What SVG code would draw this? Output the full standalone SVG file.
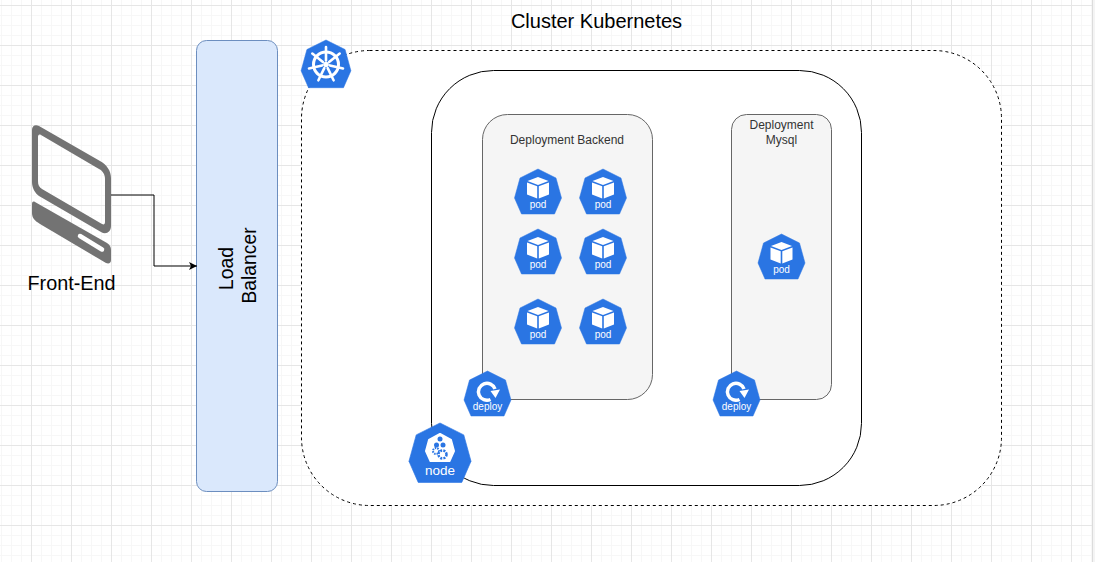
<svg xmlns="http://www.w3.org/2000/svg" xmlns:xlink="http://www.w3.org/1999/xlink" width="1097" height="562" viewBox="0 0 1097 562">
<style>
text{font-family:"Liberation Sans",Arial,sans-serif;fill:#000;text-anchor:middle}
.box{fill:#f5f5f5;stroke:#666;stroke-width:1}
.small{font-size:12px;fill:#333}
.k8{fill:#fff;font-size:10px}
.hept{fill:#2a75e3;stroke:#2a75e3;stroke-width:0.5;stroke-linejoin:round}
</style>
<defs>
<pattern id="minor" width="10" height="10" patternUnits="userSpaceOnUse" x="1" y="5">
<path d="M0.5 0V10M0 0.5H10" fill="none" stroke="#f7f7f7" stroke-width="1"/>
</pattern>
<pattern id="major" width="40" height="40" patternUnits="userSpaceOnUse" x="31" y="5">
<path d="M0.5 0V40M0 0.5H40" fill="none" stroke="#e6e6e6" stroke-width="1"/>
</pattern>
<marker id="arrow" markerWidth="10" markerHeight="10" refX="8" refY="5" orient="auto" markerUnits="userSpaceOnUse">
<path d="M0 1L8 5L0 9L2 5Z" fill="#000"/>
</marker>
<path id="hept" class="hept" d="M0 0L18 9L23.500 29L16.500 45H-16.500L-23.500 29L-18 9Z"/>
<g id="cube">
<path d="M0 8L-10.500 12L0 16L10.500 12Z" fill="#fff"/>
<path d="M-11 13.500L-0.800 17.300V29.500L-11 25.500Z" fill="#fff"/>
<path d="M11 13.500L0.800 17.300V29.500L11 25.500Z" fill="#fff"/>
</g>
<g id="cycle">
<path d="M3 28.500A8.500 8.500 0 1 1 7.500 18" fill="none" stroke="#fff" stroke-width="3.500"/>
<path d="M3 20L12.500 18.500L8 27Z" fill="#fff"/>
</g>
<g id="wheel" fill="none" stroke="#fff">
<circle cx="0" cy="0" r="12.500" stroke-width="3"/>
<g stroke-width="2.600" stroke-linecap="round">
<path d="M0 -4V-17.500M3.100 -2.500L13.700 -10.900M3.900 0.900L17 3.900M1.700 3.600L7.600 15.800M-1.700 3.600L-7.600 15.800M-3.900 0.900L-17 3.900M-3.100 -2.500L-13.700 -10.900"/>
</g>
<circle cx="0" cy="0" r="2.800" fill="#fff" stroke="none"/>
</g>
</defs>

<rect width="1097" height="562" fill="#fff"/>
<rect width="1092" height="562" fill="url(#minor)"/>
<rect width="1092" height="562" fill="url(#major)"/>
<rect x="1092" y="0" width="1" height="562" fill="#dcdcdc"/>
<rect x="1093" y="0" width="2" height="562" fill="#f4f4f4"/>

<g id="cluster">
<rect x="301.500" y="50.500" width="700" height="455" rx="68" ry="68" fill="#fff" stroke="#000" stroke-dasharray="3 3"/>
<text x="596.500" y="28" font-size="20">Cluster Kubernetes</text>
</g>
<g id="k8s-node-box">
<rect x="431.500" y="70.500" width="430" height="415" rx="62" ry="62" fill="#fff" stroke="#000"/>
</g>
<g id="deployment-backend">
<rect class="box" x="482.500" y="114.500" width="170" height="285" rx="25" ry="25"/>
<text class="small" x="567" y="144">Deployment Backend</text>
</g>
<g id="deployment-mysql">
<rect class="box" x="731.500" y="114.500" width="100" height="285" rx="15" ry="15"/>
<text class="small" x="781.500" y="129">Deployment</text>
<text class="small" x="781.500" y="144">Mysql</text>
</g>

<g id="load-balancer">
<rect x="196.500" y="40.500" width="81" height="451" rx="10" ry="10" fill="#dae8fc" stroke="#6c8ebf"/>
<text font-size="19.300" transform="translate(233 268.500) rotate(-90)">Load</text>
<text font-size="19.300" transform="translate(256 265.500) rotate(-90)">Balancer</text>
</g>

<g id="front-end">
<path fill="#737373" fill-rule="evenodd" d="M39 126L100 161C107 165 111 171 111 178V226C111 232 106 235 101 232L39 196C35 193 32 188 32 182V130C32 126 35 124 39 126ZM41 135C39 134 38 135 38 137V181C38 185 39 187 42 189L102 224C104 225 105 224 105 222V179C105 175 103 171 99 169Z"/>
<path fill="#737373" d="M35 202L107 243C110 245 111 247 111 250V260C111 263 109 264 106 263L40 224C35 221 32 218 32 213V204C32 202 33 201 35 202Z"/>
<path d="M80 236L102 249.500" stroke="#fff" stroke-width="4.500" stroke-linecap="round" fill="none"/>
<text x="71.500" y="290" font-size="19.800">Front-End</text>
</g>

<g id="connectors">
<path d="M111 195H154V266H197" fill="none" stroke="#000" marker-end="url(#arrow)"/>
</g>

<g id="k8s-logo">
<use xlink:href="#hept" href="#hept" transform="translate(326 40) scale(1.06)"/>
<use xlink:href="#wheel" href="#wheel" transform="translate(326 64.500)"/>
</g>
<g id="pod-1"><use href="#hept" x="538" y="169"/><use href="#cube" x="538" y="169"/><text class="k8" x="538" y="208">pod</text></g>
<g id="pod-2"><use href="#hept" x="603" y="169"/><use href="#cube" x="603" y="169"/><text class="k8" x="603" y="208">pod</text></g>
<g id="pod-3"><use href="#hept" x="538" y="229"/><use href="#cube" x="538" y="229"/><text class="k8" x="538" y="268">pod</text></g>
<g id="pod-4"><use href="#hept" x="603" y="229"/><use href="#cube" x="603" y="229"/><text class="k8" x="603" y="268">pod</text></g>
<g id="pod-5"><use href="#hept" x="538" y="299"/><use href="#cube" x="538" y="299"/><text class="k8" x="538" y="338">pod</text></g>
<g id="pod-6"><use href="#hept" x="603" y="299"/><use href="#cube" x="603" y="299"/><text class="k8" x="603" y="338">pod</text></g>
<g id="pod-7"><use href="#hept" x="781.500" y="234"/><use href="#cube" x="781.500" y="234"/><text class="k8" x="781.500" y="273">pod</text></g>
<g id="deploy-backend"><use href="#hept" x="487.500" y="371"/><use href="#cycle" x="487.500" y="371"/><text class="k8" x="487.500" y="410">deploy</text></g>
<g id="deploy-mysql"><use href="#hept" x="736.500" y="371"/><use href="#cycle" x="736.500" y="371"/><text class="k8" x="736.500" y="410">deploy</text></g>
<g id="node">
<use href="#hept" transform="translate(440 423) scale(1.32)"/>
<path d="M440 434L451 440L454 451L449.500 461H430.500L426 451L429 440Z" fill="#fff" stroke="#fff" stroke-width="2" stroke-linejoin="round"/>
<g fill="#2a75e3">
<circle cx="440" cy="439" r="2.500"/><circle cx="436.500" cy="445" r="2.500"/><circle cx="443" cy="445" r="2.500"/>
<circle cx="436" cy="451" r="3" fill="#fff" stroke="#2a75e3" stroke-width="2" stroke-dasharray="1.500 1"/>
<circle cx="442.500" cy="454.500" r="4" fill="#fff" stroke="#2a75e3" stroke-width="2.500" stroke-dasharray="2 1.200"/>
</g>
<text x="440" y="475" font-size="13.500" style="fill:#fff">node</text>
</g>
</svg>
